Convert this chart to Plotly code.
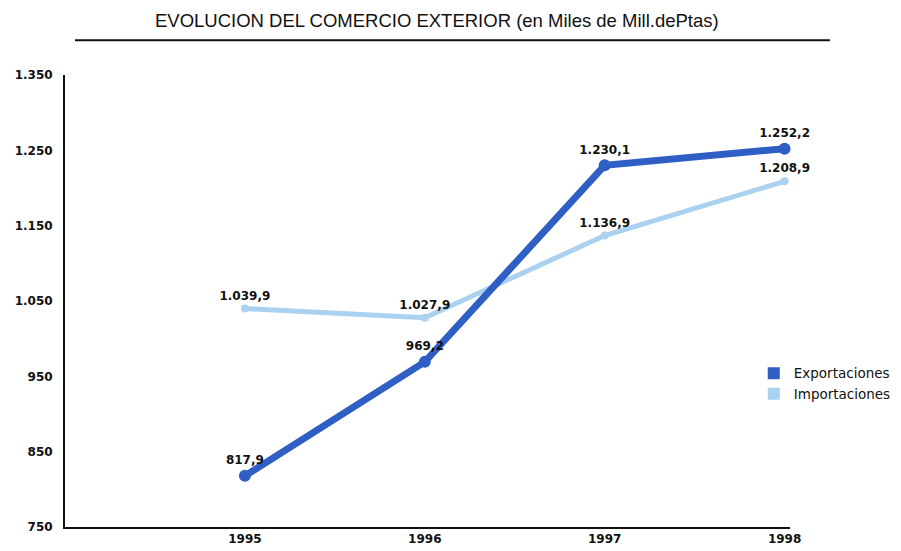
import plotly.graph_objects as go

years = [1995, 1996, 1997, 1998]
exportaciones = [817.9, 969.2, 1230.1, 1252.2]
importaciones = [1039.9, 1027.9, 1136.9, 1208.9]
y_ticks = [750, 850, 950, 1050, 1150, 1250, 1350]
title_text = "EVOLUCION DEL COMERCIO EXTERIOR (en Miles de Mill.dePtas)"

c_exp = "#2F5FC4"
c_imp = "#AAD2F0"
lab_font = dict(family="DejaVu Sans", size=12, color="#111111")

fig = go.Figure()
fig.add_trace(go.Scatter(
    x=years, y=importaciones, mode="lines+markers+text",
    line=dict(color=c_imp, width=5), marker=dict(color=c_imp, size=8),
    texttemplate="<b>%{y:,.1f}</b>", textposition="top center",
    textfont=lab_font, showlegend=False, cliponaxis=False))
fig.add_trace(go.Scatter(
    x=years, y=exportaciones, mode="lines+markers+text",
    line=dict(color=c_exp, width=7), marker=dict(color=c_exp, size=12),
    texttemplate="<b>%{y:,.1f}</b>", textposition="top center",
    textfont=lab_font, showlegend=False, cliponaxis=False))
# legend entries (square swatches)
fig.add_trace(go.Scatter(x=[None], y=[None], mode="markers", name="Exportaciones",
                         marker=dict(color=c_exp, size=16, symbol="square")))
fig.add_trace(go.Scatter(x=[None], y=[None], mode="markers", name="Importaciones",
                         marker=dict(color=c_imp, size=16, symbol="square")))

fig.update_layout(
    width=901, height=551,
    margin=dict(l=65, r=111, t=75, b=24, autoexpand=False),
    paper_bgcolor="white", plot_bgcolor="white",
    separators=",.",
    showlegend=True,
    legend=dict(x=0.950, y=0.374, xanchor="left", yanchor="top",
                font=dict(family="DejaVu Sans", size=13.5, color="#111111"),
                itemsizing="constant", tracegroupgap=0, bgcolor="rgba(0,0,0,0)"),
    xaxis=dict(range=[1994, 1998.03], tickvals=years, ticktext=[f"<b>{y}</b>" for y in years],
               showgrid=False, zeroline=False, showline=True, linecolor="#111111", linewidth=2,
               ticks="", automargin=False,
               tickfont=dict(family="DejaVu Sans", size=12, color="#111111")),
    yaxis=dict(range=[750, 1350], tickvals=y_ticks,
               ticktext=["<b>" + f"{v:,}".replace(",", ".") + "</b>" for v in y_ticks],
               showgrid=False, zeroline=False, showline=True, linecolor="#111111", linewidth=2,
               ticks="outside", ticklen=8, tickcolor="rgba(0,0,0,0)", automargin=False,
               tickfont=dict(family="DejaVu Sans", size=12, color="#111111")),
    annotations=[dict(text=title_text, xref="paper", yref="paper", x=0.513, y=1.12,
                      xanchor="center", yanchor="middle", showarrow=False,
                      font=dict(family="Liberation Sans", size=18.5, color="#111111"))],
    shapes=[dict(type="line", xref="paper", yref="paper", x0=0.0138, x1=1.055, y0=1.077, y1=1.077,
                 line=dict(color="#111111", width=2))],
)

fig.write_html("out.html", config={"displayModeBar": False},
               post_script="document.body.style.margin='0';")
